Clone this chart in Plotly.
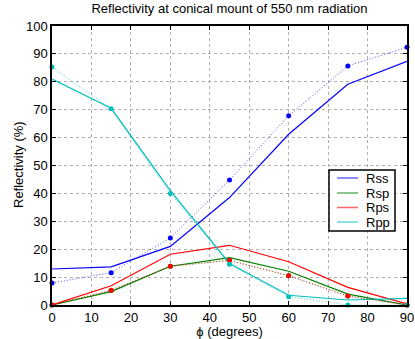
import plotly.graph_objects as go

phi = [0, 15, 30, 45, 60, 75, 90]

# model (solid lines)
rss_model = [12.9, 13.7, 21.0, 38.5, 61.2, 79.1, 87.3]
rsp_model = [0.0, 4.8, 13.9, 17.0, 12.1, 3.9, 0.0]
rps_model = [0.0, 6.9, 18.2, 21.4, 15.5, 6.3, 0.4]
rpp_model = [81.0, 70.5, 41.0, 14.9, 3.5, 1.8, 2.4]

# measured (dots + dotted lines)
rss_meas = [7.9, 11.6, 24.0, 44.8, 67.8, 85.7, 92.4]
rsp_meas = [0.0, 5.2, 13.9, 16.0, 10.5, 3.2, 0.0]
rps_meas = [0.0, 5.3, 13.9, 16.0, 10.5, 3.2, 0.0]
rpp_meas = [85.3, 70.3, 40.0, 14.6, 3.0, 0.0, 0.0]

names = ["Rss", "Rsp", "Rps", "Rpp"]
colors = ["#0000ff", "#008000", "#ff0000", "#00bfbf"]
models = [rss_model, rsp_model, rps_model, rpp_model]
meas = [rss_meas, rsp_meas, rps_meas, rpp_meas]

fig = go.Figure()
for n, c, m in zip(names, colors, models):
    fig.add_trace(go.Scatter(x=phi, y=m, mode="lines", name=n, showlegend=False,
                             line=dict(color=c, width=1.2), cliponaxis=False))
for n, c, d in zip(names, colors, meas):
    fig.add_trace(go.Scatter(x=phi, y=d, mode="lines", name=n + " meas",
                             showlegend=False, opacity=0.7,
                             line=dict(color=c, width=1, dash="1px,2px"),
                             cliponaxis=False))
for n, c, d in zip(names, colors, meas):
    fig.add_trace(go.Scatter(x=phi, y=d, mode="markers", name=n + " pts",
                             showlegend=False,
                             marker=dict(color=c, size=5), cliponaxis=False))

# legend drawn as a box (paper coords relative to plot area)
L, R, T, B = 52.0, 407.0, 26.0, 305.0
def px(x):
    return (x - L) / (R - L)
def py(y):
    return (B - y) / (B - T)

shapes = [dict(type="rect", xref="paper", yref="paper",
               x0=px(329), x1=px(395), y0=py(231), y1=py(170),
               line=dict(color="black", width=1.5), fillcolor="white", layer="above")]
annotations = []
entry_y = [178, 193, 207.5, 222]
for n, c, yy in zip(names, colors, entry_y):
    shapes.append(dict(type="line", xref="paper", yref="paper",
                       x0=px(337), x1=px(358), y0=py(yy), y1=py(yy),
                       line=dict(color=c, width=1.5), opacity=0.6, layer="above"))
    annotations.append(dict(text=n, xref="paper", yref="paper", x=px(364), y=py(yy),
                            xanchor="left", yanchor="middle", showarrow=False,
                            font=dict(size=13, color="black")))

# y-axis title placed as annotation to match position
annotations.append(dict(text="Reflectivity (%)", xref="paper", yref="paper",
                        x=px(18), y=py(165), textangle=-90, showarrow=False,
                        xanchor="center", yanchor="middle",
                        font=dict(size=13, color="black")))

axis_common = dict(showline=True, linecolor="black", linewidth=1.5, mirror="ticks",
                   ticks="inside", ticklen=4, tickcolor="black", automargin=False,
                   showgrid=True, gridcolor="#b0b0b0", griddash="dot", gridwidth=1,
                   zeroline=False, tickfont=dict(size=13, color="black"))

fig.update_layout(
    width=415, height=339,
    margin=dict(l=52, r=8, t=26, b=34),
    paper_bgcolor="white", plot_bgcolor="white",
    font=dict(family="Liberation Sans, Arial, sans-serif", color="black", size=13),
    title=dict(text="Reflectivity at conical mount of 550 nm radiation",
               xref="paper", x=0.5, xanchor="center",
               yref="container", y=1 - 4 / 339, yanchor="top",
               font=dict(size=13)),
    xaxis=dict(range=[0, 90], dtick=10, tick0=0,
               title=dict(text="ϕ (degrees)", standoff=6, font=dict(size=13)),
               **axis_common),
    yaxis=dict(range=[0, 100], dtick=10, tick0=0, **axis_common),
    shapes=shapes,
    annotations=annotations,
    showlegend=False,
)

fig.write_html("out.html")
